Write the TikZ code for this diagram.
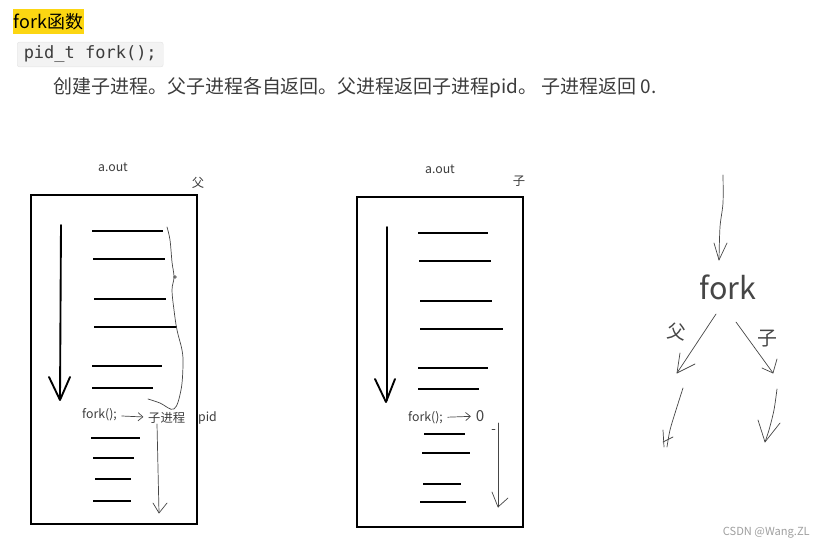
\documentclass[tikz,border=0pt]{standalone}
\usepackage{fontspec}
\setmainfont{Noto Sans CJK SC}
\newfontfamily\codefont{DejaVu Sans Mono}
\usetikzlibrary{positioning,arrows.meta}
\definecolor{MarkYellow}{RGB}{252,214,18}
\definecolor{CodeGray}{RGB}{243,243,243}
\definecolor{CodeEdge}{RGB}{228,228,228}
\definecolor{TextGray}{RGB}{60,60,60}
\definecolor{PenGray}{RGB}{70,70,70}

\begin{document}
\begin{tikzpicture}[
    x=0.03cm, y=-0.03cm,
    membox/.style={draw, line width=1.7pt},
    codeline/.style={line width=2pt},
    flow/.style={line width=1.6pt, line cap=round, line join=round},
    pen/.style={line width=0.6pt, color=PenGray, line cap=round, line join=round},
    thinarrow/.style={pen, -{Straight Barb[length=4pt,width=7pt]}, shorten <=4pt, shorten >=4pt},
    small/.style={font=\fontsize{10.5}{12}\selectfont, inner sep=0pt, text=TextGray},
    hand/.style={inner sep=0pt, text=PenGray}
  ]
    \useasboundingbox (0,0) rectangle (826,549);

    % heading and text
    \node[fill=MarkYellow, inner xsep=0.6pt, minimum height=0.69cm, anchor=west,
          font=\fontsize{15.3}{18}\selectfont] (title) at (13,21.5) {fork函数};
    \node[fill=CodeGray, draw=CodeEdge, rounded corners=2pt, minimum height=0.69cm,
          minimum width=4.38cm, anchor=west, font=\codefont\fontsize{14.5}{17}\selectfont,
          text=TextGray] (proto) at (17,54.5) {pid\_t fork();};
    \node[anchor=west, inner sep=0pt, text=TextGray, font=\fontsize{16.2}{19}\selectfont]
          (desc) at (53,88) {创建子进程。父子进程各自返回。父进程返回子进程pid。 子进程返回 0.};

    % parent process
    \node[small] (outA) at (113,167) {a.out};
    \node[small] (parent) at (198,183) {父};
    \draw[membox] (31,195) rectangle (197,524);
    \foreach \y/\a/\b in {231/92/163, 259/93/165, 299/94/166, 327/94/177, 366/92/162,
                          388/92/153, 438/91/140, 458/93/134, 479/95/131, 501/93/131}
      \draw[codeline] (\a,\y) -- (\b,\y);
    \draw[flow] (61,225) -- (60,399);
    \draw[flow] (49,377) -- (60,400) -- (70,377);
    \node[small, anchor=west] (forkA) at (82,415) {fork();};
    \node[small, anchor=west] (childA) at (148,418) {子进程};
    \node[small, anchor=west] (pidA) at (198,418) {pid};
    \draw[thinarrow] (forkA) -- (childA);
    \draw[pen] plot[smooth, tension=0.6] coordinates {(167,227) (170,240) (172,262) (174,277)
      (172,290) (174,310) (177,330) (182,350) (183,365) (181,390) (174,409) (160,403) (148,399)};
    \draw[pen] (175,277) circle (1.3);
    \draw[pen] (157,424) -- (159,513);
    \draw[pen] (153,503) -- (159,513) -- (167,503);

    % child process
    \node[small] (outB) at (440,169) {a.out};
    \node[small] (child) at (519,181) {子};
    \draw[membox] (357,197) rectangle (523,527);
    \foreach \y/\a/\b in {233/418/488, 261/419/491, 301/420/492, 329/420/503, 368/418/488,
                          389/418/479, 434/424/465, 453/422/470, 484/423/461, 502/420/466}
      \draw[codeline] (\a,\y) -- (\b,\y);
    \draw[flow] (387,227) -- (387,400);
    \draw[flow] (375,379) -- (386,402) -- (395,379);
    \node[small, anchor=west] (forkB) at (408,418) {fork();};
    \node[hand, font=\fontsize{13}{14}\selectfont] (zero) at (480,416) {0};
    \draw[thinarrow] (forkB) -- (zero);
    \draw[pen] (492,429) -- (495,429);
    \draw[pen] (498,423) -- (498,507);
    \draw[pen] (492,492) -- (498,507) -- (508,498);

    % sketch of the split
    \node[hand, font=\fontsize{26}{28}\selectfont] (forkC) at (728,287) {fork};
    \draw[pen] plot[smooth] coordinates {(723,175) (723,203) (720,227) (719,260)};
    \draw[pen] (714,243) -- (719,260) -- (727,243);
    \draw[pen] (716,314) -- (677,373);
    \draw[pen] (680,353) -- (677,373) -- (695,364);
    \node[hand, rotate=-8, font=\fontsize{16}{18}\selectfont] (fu) at (677,332) {父};
    \draw[pen] (736,322) -- (773,373);
    \draw[pen] (762,368) -- (773,373) -- (777,359);
    \node[hand, font=\fontsize{17}{18}\selectfont] (zi) at (767,339) {子};
    \draw[pen] plot[smooth] coordinates {(683,388) (676,410) (670,430) (667,447)};
    \draw[pen] (663,430) -- (664,447);
    \draw[pen] (663,442) -- (673,437);
    \draw[pen] plot[smooth] coordinates {(777,389) (774,410) (769,430) (765,442)};
    \draw[pen] (758,420) -- (765,442) -- (780,423);

    \node[anchor=east, inner sep=0pt, text=gray!75, font=\fontsize{9.5}{11}\selectfont]
          (mark) at (810,533) {CSDN @Wang.ZL};
\end{tikzpicture}
\end{document}
